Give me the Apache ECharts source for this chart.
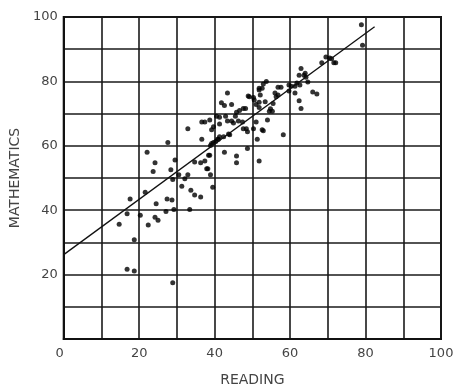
<!DOCTYPE html>
<html>
<head>
<meta charset="utf-8">
<script src="https://cdn.jsdelivr.net/npm/echarts@6/dist/echarts.min.js"></script>
<style>
  html, body { margin: 0; padding: 0; background: #fff; }
  #chart { width: 457px; height: 392px; }
</style>
</head>
<body>
<div id="chart"></div>
<script>
// reading score, mathematics score
var scores = [
  [14.7, 35.6], [16.8, 38.9], [17.6, 43.5], [18.7, 30.8], [16.8, 21.7], [18.7, 21.1],
  [28.9, 17.5], [20.3, 38.4], [22.4, 35.4], [24.5, 42], [24.2, 37.8], [25, 36.9],
  [27.4, 43.5], [28.7, 43.2], [27.1, 39.6], [29.2, 40.2], [21.6, 45.6], [23.7, 52],
  [28.4, 52.6], [33.4, 40.2], [31.3, 47.4], [33.7, 46.2], [34.7, 44.7], [36.3, 44.1],
  [39.5, 47.1], [28.9, 49.5], [30.5, 51], [32.1, 49.8], [32.9, 51], [38.2, 52.9],
  [38.9, 51], [22.1, 58], [24.2, 54.7], [27.6, 61], [29.5, 55.6], [32.9, 65.3],
  [34.7, 55], [36.3, 54.7], [37.4, 55.3], [38.4, 57.1], [37.9, 52.9], [36.6, 62],
  [36.6, 67.4], [37.4, 67.4], [38.7, 68], [39.7, 65.9], [39.2, 65], [39.2, 60.7],
  [40.3, 61.3], [41, 62], [41.3, 62.8], [42.4, 62.8], [38.7, 57.1], [42.6, 58],
  [45.8, 56.8], [45.8, 54.7], [43.7, 63.7], [44, 63.4], [43.4, 76.4], [41.8, 73.4],
  [42.6, 72.5], [44.5, 72.8], [40.5, 69.2], [41.3, 68.9], [42.9, 69.2], [43.4, 67.7],
  [44.5, 67.7], [45, 67.1], [46.3, 67.7], [41.3, 66.8], [45.8, 70.4], [45.5, 69.2],
  [46.6, 71], [47.6, 71.6], [48.2, 71.6], [49.2, 75.2], [48.9, 75.5], [50.3, 75],
  [50.5, 74.2], [51.8, 77.9], [51.8, 73.5], [51, 72.8], [47.4, 67.4], [47.6, 65.3],
  [48.7, 64.4], [48.4, 65.3], [50.3, 65.3], [51.3, 62], [52.6, 65], [48.7, 59.2],
  [51.8, 55.3], [51, 67.4], [54, 68], [52.9, 64.7], [58.2, 63.4], [53.7, 80],
  [52.9, 79.2], [52.6, 77.9], [51.8, 77.3], [56.8, 78.2], [57.6, 78.2], [56, 76.4],
  [56.8, 75.8], [56.3, 75.2], [52.1, 75.8], [53.4, 73.7], [55.5, 73.1], [51.8, 71.9],
  [54.5, 70.7], [55.3, 70.7], [54.8, 71.5], [59.7, 78.9], [60.3, 78.5], [59.7, 77],
  [61.3, 76.4], [61.8, 79.5], [62.6, 78.9], [61.3, 78.5], [62.4, 81.9], [62.9, 84],
  [64, 82.5], [63.7, 81.9], [64.2, 81.3], [64.7, 79.8], [62.4, 74], [62.9, 71.6],
  [66, 76.7], [67.1, 76.1], [68.4, 85.8], [69.5, 87.6], [70.5, 87.3], [71, 87],
  [71.6, 85.8], [72.1, 85.8], [78.9, 97.6], [79.2, 91.2], [38.9, 60.1], [39.7, 61],
  [40.8, 62]
];
// fitted line ends
var fitLine = [[0, 26.2], [82.4, 97]];

var labelStyle = { color: '#444', fontSize: 13, fontFamily: 'DejaVu Sans' };

var myChart = echarts.init(document.getElementById('chart'));
var option = {
  animation: false,
  grid: { left: 61, right: 16, top: 17, bottom: 44, show: true, borderColor: '#111', borderWidth: 2 },
  xAxis: {
    type: 'value', min: 0, max: 100, interval: 10,
    name: 'READING', nameLocation: 'middle', nameGap: 34,
    nameTextStyle: { color: '#444', fontSize: 14, fontFamily: 'DejaVu Sans' },
    axisLine: { lineStyle: { color: '#111', width: 2 } },
    axisTick: { show: false },
    axisLabel: Object.assign({
      margin: 8,
      alignMinLabel: 'right',
      formatter: function (v) { return v % 20 === 0 ? v : ''; }
    }, labelStyle),
    splitLine: { lineStyle: { color: '#1a1a1a', width: 1.6 } }
  },
  yAxis: {
    type: 'value', min: 0, max: 100, interval: 10,
    name: 'MATHEMATICS', nameLocation: 'middle', nameGap: 38,
    nameTextStyle: { color: '#444', fontSize: 14, fontFamily: 'DejaVu Sans' },
    axisLine: { lineStyle: { color: '#111', width: 2 } },
    axisTick: { show: false },
    axisLabel: Object.assign({ margin: 6, formatter: function (v) { return (v % 20 === 0 && v > 0) ? v : ''; } }, labelStyle),
    splitLine: { lineStyle: { color: '#1a1a1a', width: 1.6 } }
  },
  series: [
    {
      type: 'scatter',
      data: scores,
      symbolSize: 5,
      itemStyle: { color: '#000' }
    },
    {
      type: 'line',
      data: fitLine,
      symbol: 'none',
      lineStyle: { color: '#111', width: 1.3 }
    }
  ]
};
myChart.setOption(option);
</script>
</body>
</html>
